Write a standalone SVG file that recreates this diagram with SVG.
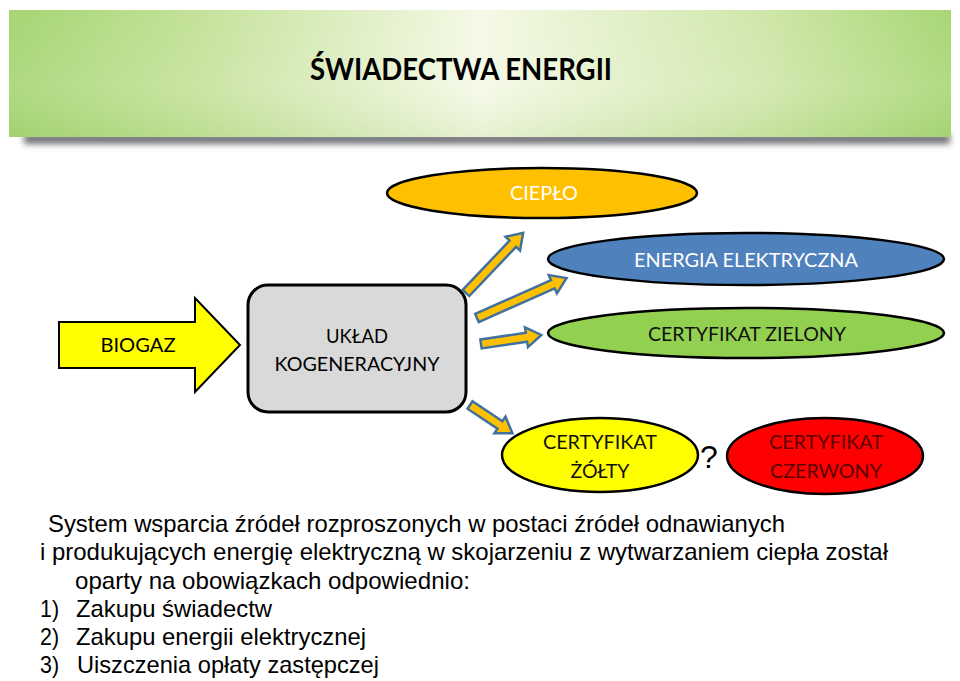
<svg xmlns="http://www.w3.org/2000/svg" width="960" height="681" viewBox="0 0 960 681">
<defs>
<linearGradient id="bannerG" x1="0" y1="0" x2="1" y2="0">
<stop offset="0" stop-color="#a6d573"/>
<stop offset="0.2" stop-color="#c4e29a"/>
<stop offset="0.5" stop-color="#f5f9e6"/>
<stop offset="0.8" stop-color="#cfe7aa"/>
<stop offset="1" stop-color="#a9d675"/>
</linearGradient>
<linearGradient id="bannerV" x1="0" y1="0" x2="0" y2="1">
<stop offset="0" stop-color="#ffffff" stop-opacity="0"/>
<stop offset="0.6" stop-color="#ffffff" stop-opacity="0.1"/>
<stop offset="1" stop-color="#8fc060" stop-opacity="0.15"/>
</linearGradient>
<filter id="blur" x="-5%" y="-100%" width="110%" height="300%">
<feGaussianBlur stdDeviation="3"/>
</filter>
<style>
.cal{font-family:Lato,"Open Sans","Liberation Sans",sans-serif;font-size:20px;text-anchor:middle}
.body{font-family:"Liberation Sans",Arial,sans-serif;font-size:24px;fill:#000}
.sa{fill:#ffc000;stroke:#41719c;stroke-width:2.5;stroke-linejoin:miter}
.ell{stroke:#000;stroke-width:2.5}
</style>
</defs>

<g id="banner">
<rect x="24" y="134" width="926" height="10" fill="#6f7078" filter="url(#blur)"/>
<rect x="9" y="10" width="942" height="127" fill="url(#bannerG)"/>
<rect x="9" y="10" width="942" height="127" fill="url(#bannerV)"/>
<text x="461" y="80" font-family="Lato,'Open Sans','Liberation Sans',sans-serif" font-weight="bold" font-size="31" text-anchor="middle" textLength="302" lengthAdjust="spacingAndGlyphs">ŚWIADECTWA ENERGII</text>
</g>

<g id="biogaz">
<polygon points="59,322 195,322 195,298 240,345 195,392 195,368 59,368" fill="#ffff00" stroke="#000" stroke-width="2"/>
<text class="cal" x="138" y="352" textLength="75" lengthAdjust="spacingAndGlyphs">BIOGAZ</text>
</g>

<g id="uklad">
<rect x="248" y="285" width="218" height="127" rx="20" fill="#d9d9d9" stroke="#000" stroke-width="3"/>
<text class="cal" x="357" y="343" textLength="62" lengthAdjust="spacingAndGlyphs">UKŁAD</text>
<text class="cal" x="357" y="371" textLength="165" lengthAdjust="spacingAndGlyphs">KOGENERACYJNY</text>
</g>

<g id="cieplo">
<ellipse class="ell" cx="542" cy="193" rx="155" ry="25" fill="#ffc000"/>
<text class="cal" x="544" y="200" fill="#fff" textLength="68" lengthAdjust="spacingAndGlyphs">CIEPŁO</text>
</g>

<g id="energia">
<ellipse class="ell" cx="746" cy="259" rx="198" ry="26" fill="#4f81bd"/>
<text class="cal" x="746" y="267" fill="#fff" textLength="224" lengthAdjust="spacingAndGlyphs">ENERGIA ELEKTRYCZNA</text>
</g>

<g id="zielony">
<ellipse class="ell" cx="746" cy="333" rx="198" ry="25" fill="#92d050"/>
<text class="cal" x="747" y="341" fill="#111" textLength="198" lengthAdjust="spacingAndGlyphs">CERTYFIKAT ZIELONY</text>
</g>

<g id="zolty">
<ellipse class="ell" cx="600" cy="455" rx="98" ry="37" fill="#ffff00"/>
<text class="cal" x="600" y="449" fill="#111" textLength="114" lengthAdjust="spacingAndGlyphs">CERTYFIKAT</text>
<text class="cal" x="600" y="478" fill="#111" textLength="59" lengthAdjust="spacingAndGlyphs">ŻÓŁTY</text>
</g>

<g id="pytanie">
<text x="709" y="468" font-family="'Liberation Sans',Arial,sans-serif" font-size="32" text-anchor="middle" fill="#000">?</text>
</g>

<g id="czerwony">
<ellipse class="ell" cx="825" cy="456" rx="98" ry="38" fill="#ff0000"/>
<text class="cal" x="826" y="449" fill="#5c0000" textLength="114" lengthAdjust="spacingAndGlyphs">CERTYFIKAT</text>
<text class="cal" x="826" y="478" fill="#5c0000" textLength="112" lengthAdjust="spacingAndGlyphs">CZERWONY</text>
</g>

<g id="connectors">
<path class="sa" transform="translate(466,293) rotate(-46.5)" d="M0,-4.5 L68,-4.5 L68,-10 L83,0 L68,10 L68,4.5 L0,4.5 Z"/>
<path class="sa" transform="translate(477,318) rotate(-24)" d="M0,-4.5 L83,-4.5 L83,-10 L98,0 L83,10 L83,4.5 L0,4.5 Z"/>
<path class="sa" transform="translate(481,344) rotate(-8.5)" d="M0,-4.5 L46,-4.5 L46,-10 L61,0 L46,10 L46,4.5 L0,4.5 Z"/>
<path class="sa" transform="translate(470,405) rotate(33.7)" d="M0,-4.5 L36,-4.5 L36,-10 L51,0 L36,10 L36,4.5 L0,4.5 Z"/>
</g>

<g id="opis">
<text class="body" x="48" y="532" textLength="737" lengthAdjust="spacingAndGlyphs">System wsparcia źródeł rozproszonych w postaci źródeł odnawianych</text>
<text class="body" x="40" y="560" textLength="848" lengthAdjust="spacingAndGlyphs">i produkujących energię elektryczną w skojarzeniu z wytwarzaniem ciepła został</text>
<text class="body" x="75" y="589" textLength="395" lengthAdjust="spacingAndGlyphs">oparty na obowiązkach odpowiednio:</text>
<text class="body" x="40" y="617" textLength="19" lengthAdjust="spacingAndGlyphs">1)</text>
<text class="body" x="76" y="617" textLength="196" lengthAdjust="spacingAndGlyphs">Zakupu świadectw</text>
<text class="body" x="40" y="645" textLength="19" lengthAdjust="spacingAndGlyphs">2)</text>
<text class="body" x="76" y="645" textLength="290" lengthAdjust="spacingAndGlyphs">Zakupu energii elektrycznej</text>
<text class="body" x="40" y="673" textLength="19" lengthAdjust="spacingAndGlyphs">3)</text>
<text class="body" x="77" y="673" textLength="302" lengthAdjust="spacingAndGlyphs">Uiszczenia opłaty zastępczej</text>
</g>
</svg>
